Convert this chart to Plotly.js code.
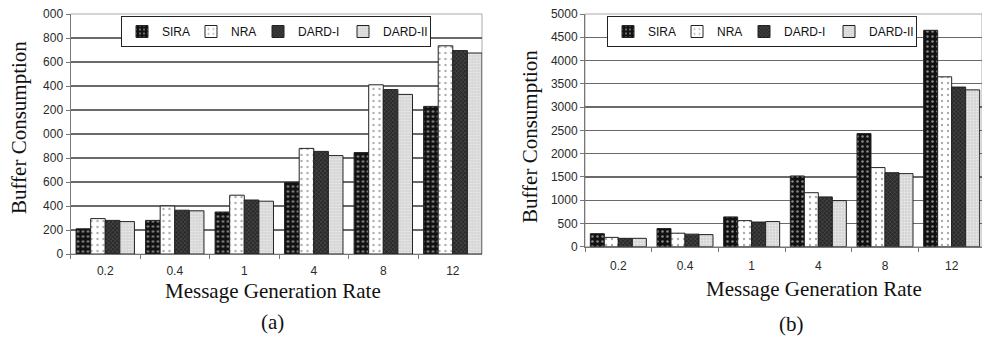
<!DOCTYPE html>
<html>
<head>
<meta charset="utf-8">
<script src="https://cdn.plot.ly/plotly-3.0.1.min.js"></script>
<style>html,body{margin:0;padding:0;background:#fff;}#chart{width:982px;height:338px;}</style>
</head>
<body>
<div id="chart"></div>
<script>
const categories = ['0.2', '0.4', '1', '4', '8', '12'];
const seriesNames = ['SIRA', 'NRA', 'DARD-I', 'DARD-II'];

// (a)
const sira_a   = [210, 280, 350, 595, 845, 1230];
const nra_a    = [295, 400, 490, 880, 1410, 1735];
const dard1_a  = [280, 365, 450, 855, 1370, 1695];
const dard2_a  = [270, 360, 440, 820, 1330, 1675];

// (b)
const sira_b   = [280, 390, 640, 1520, 2430, 4650];
const nra_b    = [200, 290, 560, 1160, 1700, 3650];
const dard1_b  = [180, 270, 530, 1070, 1590, 3430];
const dard2_b  = [180, 260, 540, 990, 1570, 3370];

const yTickVals_a = [0, 200, 400, 600, 800, 1000, 1200, 1400, 1600, 1800, 2000];
const yTickText_a = ['0', '200', '400', '600', '800', '000', '200', '400', '600', '800', '000'];
const yTickVals_b = [0, 500, 1000, 1500, 2000, 2500, 3000, 3500, 4000, 4500, 5000];

const styles = [
  {color: '#111111', pattern: {shape: '.', fgcolor: '#ffffff', size: 5, solidity: 0.2, fillmode: 'overlay'}},
  {color: '#ffffff', pattern: {shape: '.', fgcolor: '#555555', size: 6, solidity: 0.12, fillmode: 'overlay'}},
  {color: '#2a2a2a', pattern: {shape: 'x', fgcolor: '#8a8a8a', size: 3, solidity: 0.3, fillmode: 'overlay'}},
  {color: '#d4d4d4', pattern: {shape: '.', fgcolor: '#ffffff', size: 3, solidity: 0.35, fillmode: 'overlay'}}
];
const legendWidths = [24, 22, 40, 42];

function mk(vals, i, xa, ya, leg) {
  return {
    type: 'bar', x: categories, y: vals, name: seriesNames[i],
    xaxis: xa, yaxis: ya, legend: leg, legendwidth: legendWidths[i],
    marker: {color: styles[i].color, pattern: styles[i].pattern, line: {color: '#222', width: 1}}
  };
}

const data = [
  mk(sira_a, 0, 'x', 'y', 'legend'), mk(nra_a, 1, 'x', 'y', 'legend'),
  mk(dard1_a, 2, 'x', 'y', 'legend'), mk(dard2_a, 3, 'x', 'y', 'legend'),
  mk(sira_b, 0, 'x2', 'y2', 'legend2'), mk(nra_b, 1, 'x2', 'y2', 'legend2'),
  mk(dard1_b, 2, 'x2', 'y2', 'legend2'), mk(dard2_b, 3, 'x2', 'y2', 'legend2')
];

const tickFont = {family: 'Liberation Sans, Arial, sans-serif', size: 12, color: '#2a2a2a'};
const serifY = {family: 'Liberation Serif, Times New Roman, serif', size: 21, color: '#111'};
const serifX = {family: 'Liberation Serif, Times New Roman, serif', size: 21, color: '#111'};

const xBase = {
  type: 'category', showline: true, linecolor: '#777', linewidth: 1,
  ticks: 'outside', tickson: 'boundaries', ticklen: 4, tickcolor: '#777',
  tickfont: tickFont, showgrid: false, fixedrange: true
};
const yBase = {
  showline: true, linecolor: '#777', linewidth: 1, ticks: 'outside', ticklen: 4, tickcolor: '#777',
  tickfont: tickFont, showgrid: true, gridcolor: '#6a6a6a', gridwidth: 1.3, zeroline: false,
  tickmode: 'array'
};

const legBase = {
  orientation: 'h', xanchor: 'left', yanchor: 'top', bgcolor: '#fff',
  bordercolor: '#222', borderwidth: 1, font: {family: 'Liberation Sans, Arial, sans-serif', size: 12, color: '#111'},
  itemwidth: 30, tracegroupgap: 0, itemclick: false
};

const layout = {
  width: 982, height: 338,
  margin: {l: 0, r: 0, t: 0, b: 0},
  paper_bgcolor: '#fff', plot_bgcolor: '#fff',
  barmode: 'group', bargap: 0.16, bargroupgap: 0,
  showlegend: true,
  xaxis: Object.assign({}, xBase, {domain: [70.5/982, 482/982], anchor: 'y', range: [-0.5, 5.42], ticklabelstandoff: 6}),
  yaxis: Object.assign({}, yBase, {domain: [1 - 254/338, 1 - 14/338], anchor: 'x', range: [0, 2000],
    tickvals: yTickVals_a, ticktext: yTickText_a}),
  xaxis2: Object.assign({}, xBase, {domain: [585/982, 1], anchor: 'y2', range: [-0.5, 5.455], ticklabelstandoff: 8}),
  yaxis2: Object.assign({}, yBase, {domain: [1 - 246.7/338, 1 - 14/338], anchor: 'x2', range: [0, 5000],
    tickvals: yTickVals_b, ticktext: yTickVals_b.map(String)}),
  legend: Object.assign({}, legBase, {x: 121/982, y: 1 - 16/338}),
  legend2: Object.assign({}, legBase, {x: 607/982, y: 1 - 16/338}),
  shapes: [
    {type: 'rect', xref: 'x domain', yref: 'y domain', x0: 0, x1: 1, y0: 0, y1: 1, line: {color: '#aaa', width: 1}, layer: 'below'},
    {type: 'rect', xref: 'x2 domain', yref: 'y2 domain', x0: 0, x1: 1, y0: 0, y1: 1, line: {color: '#aaa', width: 1}, layer: 'below'}
  ],
  annotations: [
    {text: 'Buffer Consumption', textangle: -90, xref: 'paper', yref: 'paper', x: 19/982, y: 1 - 128/338, showarrow: false, font: serifY, xanchor: 'center', yanchor: 'middle'},
    {text: 'Buffer Consumption', textangle: -90, xref: 'paper', yref: 'paper', x: 530/982, y: 1 - 137/338, showarrow: false, font: serifY, xanchor: 'center', yanchor: 'middle'},
    {text: 'Message Generation Rate', xref: 'paper', yref: 'paper', x: 273/982, y: 1 - 291/338, showarrow: false, font: serifX, xanchor: 'center', yanchor: 'middle'},
    {text: 'Message Generation Rate', xref: 'paper', yref: 'paper', x: 814/982, y: 1 - 289/338, showarrow: false, font: serifX, xanchor: 'center', yanchor: 'middle'},
    {text: '(a)', xref: 'paper', yref: 'paper', x: 272/982, y: 1 - 322/338, showarrow: false, font: serifX, xanchor: 'center', yanchor: 'middle'},
    {text: '(b)', xref: 'paper', yref: 'paper', x: 791/982, y: 1 - 324/338, showarrow: false, font: serifX, xanchor: 'center', yanchor: 'middle'}
  ]
};

Plotly.newPlot('chart', data, layout, {displayModeBar: false, staticPlot: true});
</script>
</body>
</html>
